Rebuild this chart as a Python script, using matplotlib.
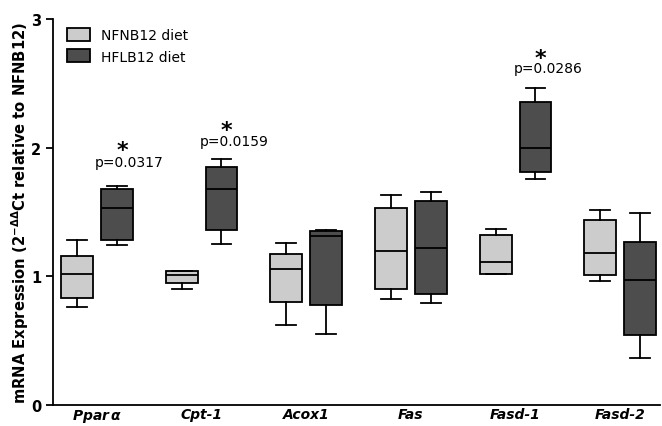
import matplotlib.pyplot as plt
from matplotlib.patches import Patch

genes = [r'Ppar$\,\mathregular{\alpha}$', 'Cpt-1', 'Acox1', 'Fas', 'Fasd-1', 'Fasd-2']
groups = ['NFNB12 diet', 'HFLB12 diet']

# whisker low, q1, median, q3, whisker high
nfnb12 = [
    [0.76, 0.83, 1.02, 1.16, 1.28],
    [0.90, 0.95, 1.01, 1.04, 1.04],
    [0.62, 0.80, 1.06, 1.17, 1.26],
    [0.82, 0.90, 1.20, 1.53, 1.63],
    [1.02, 1.02, 1.11, 1.32, 1.37],
    [0.96, 1.01, 1.18, 1.44, 1.52],
]
hflb12 = [
    [1.24, 1.28, 1.53, 1.68, 1.70],
    [1.25, 1.36, 1.68, 1.85, 1.91],
    [0.55, 0.78, 1.31, 1.35, 1.36],
    [0.79, 0.86, 1.22, 1.59, 1.66],
    [1.76, 1.81, 2.00, 2.36, 2.47],
    [0.36, 0.54, 0.97, 1.27, 1.49],
]

# significance marks: (gene index, p text, star y, text y)
sig = [(0, 'p=0.0317', 1.98, 1.89),
       (1, 'p=0.0159', 2.14, 2.05),
       (4, 'p=0.0286', 2.70, 2.62)]

light = '#cccccc'
dark = '#4d4d4d'

fig = plt.figure(figsize=(6.62, 4.27), dpi=100)
ax = fig.add_axes([0.080, 0.050, 0.917, 0.902])

def stats(vals):
    return [dict(whislo=v[0], q1=v[1], med=v[2], q3=v[3], whishi=v[4], fliers=[]) for v in vals]

off = 0.19
w = 0.305
lp = dict(linewidth=1.3, color='black')
for data, col, sign in [(nfnb12, light, -1), (hflb12, dark, 1)]:
    pos = [i + sign * off for i in range(len(genes))]
    ax.bxp(stats(data), positions=pos, widths=w, patch_artist=True, showfliers=False,
           capwidths=0.19,
           boxprops=dict(facecolor=col, edgecolor='black', linewidth=1.3),
           medianprops=lp, whiskerprops=lp, capprops=lp)

for i, txt, ys, yt in sig:
    ax.text(i + off + 0.05, ys, '*', ha='center', va='center', fontsize=16, fontweight='bold')
    ax.text(i + off + 0.12, yt, txt, ha='center', va='center', fontsize=10)

ax.set_xlim(-0.42, 5.38)
ax.set_ylim(0, 3)
ax.set_yticks([0, 1, 2, 3])
ax.set_xticks(range(len(genes)))
ax.set_xticklabels(genes, fontsize=10, fontweight='bold', fontstyle='italic')
ax.tick_params(axis='x', length=0, pad=1.5)
ax.tick_params(axis='y', length=5, width=1.3, labelsize=10.5)
for t in ax.get_yticklabels():
    t.set_fontweight('bold')
ax.spines['top'].set_visible(False)
ax.spines['right'].set_visible(False)
ax.spines['left'].set_linewidth(1.3)
ax.spines['bottom'].set_linewidth(1.3)
ax.set_ylabel(r'mRNA Expression (2$^{\mathbf{-\Delta\Delta}}$Ct relative to NFNB12)',
              fontsize=10.6, fontweight='bold')
ax.yaxis.set_label_coords(-0.036, 0.5)

handles = [Patch(facecolor=light, edgecolor='black', linewidth=1.3, label=groups[0]),
           Patch(facecolor=dark, edgecolor='black', linewidth=1.3, label=groups[1])]
ax.legend(handles=handles, loc='upper left', bbox_to_anchor=(0.01, 1.0), frameon=False,
          fontsize=10, handlelength=1.6, handleheight=1.1, borderaxespad=0.2)

fig.savefig('out.png', dpi=100)
